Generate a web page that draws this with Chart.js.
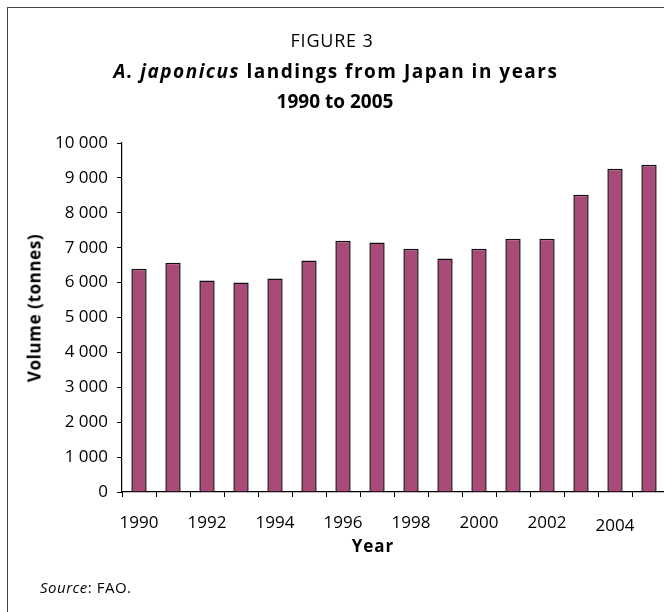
<!DOCTYPE html>
<html>
<head>
<meta charset="utf-8">
<script src="https://cdn.jsdelivr.net/npm/chart.js@4.4.1/dist/chart.umd.min.js"></script>
<style>
  html, body { margin: 0; padding: 0; background: #fff; overflow: hidden; }
  #wrap { position: relative; width: 664px; height: 612px; overflow: hidden; font-family: "Open Sans", sans-serif; color: #000; }
  #frame { position: absolute; left: 7px; top: 7px; width: 700px; height: 700px; border-left: 1.5px solid #444; border-top: 1.5px solid #444; }
  #chart { position: absolute; left: 0; top: 0; }
  .t { position: absolute; left: 0; width: 664px; text-align: center; white-space: nowrap; }
  #fig { top: 28px; font-size: 18px; letter-spacing: 0.8px; }
  #ttl1 { top: 58px; left: 4px; font-size: 19px; font-weight: bold; letter-spacing: 1.5px; }
  #ttl2 { top: 88px; left: 3px; font-size: 19px; font-weight: bold; }
  #xt { position: absolute; left: 373px; top: 534px; transform: translateX(-50%); font-size: 17px; font-weight: bold; letter-spacing: 1px; }
  #yt { position: absolute; left: 34px; top: 308px; transform: translate(-50%, -50%) rotate(-90deg); font-size: 17px; font-weight: bold; letter-spacing: 0.6px; white-space: nowrap; }
  #src { position: absolute; left: 40px; top: 577px; font-size: 15px; letter-spacing: 0.5px; }
</style>
</head>
<body>
<div id="wrap">
  <div id="frame"></div>
  <canvas id="chart" width="670" height="612"></canvas>
  <div class="t" id="fig">FIGURE 3</div>
  <div class="t" id="ttl1"><i>A. japonicus</i> landings from Japan in years</div>
  <div class="t" id="ttl2">1990 to 2005</div>
  <div id="yt">Volume (tonnes)</div>
  <div id="xt">Year</div>
  <div id="src"><i>Source</i>: FAO.</div>
</div>
<script>
// Dados
const anos = ["1990", "1991", "1992", "1993", "1994", "1995", "1996", "1997",
  "1998", "1999", "2000", "2001", "2002", "2003", "2004", "2005"];
const volume = [6400, 6570, 6060, 6000, 6120, 6630, 7200, 7150,
  6970, 6690, 6970, 7260, 7260, 8520, 9260, 9380];
const yTicks = [0, 1000, 2000, 3000, 4000, 5000, 6000, 7000, 8000, 9000, 10000];

const fonte = "'Open Sans', sans-serif";

const ctx = document.getElementById("chart");
const chart = new Chart(ctx, {
  type: "bar",
  data: {
    labels: anos,
    datasets: [{
      label: "Volume",
      data: volume,
      backgroundColor: "#AA4A78",
      borderColor: "#111",
      borderWidth: 1.5,
      categoryPercentage: 0.9,
      barPercentage: 0.5
    }]
  },
  options: {
    responsive: false,
    animation: false,
    layout: { padding: { top: 143, right: 4, left: 0, bottom: 0 } },
    plugins: { legend: { display: false }, tooltip: { enabled: false } },
    scales: {
      x: {
        offset: true,
        border: { display: true, color: "#000", width: 1.2 },
        grid: { drawOnChartArea: false, tickLength: 5, color: "#000", offset: true },
        ticks: {
          autoSkip: false,
          maxRotation: 0,
          padding: 16,
          color: "#000",
          // 2004 fica um pouco mais baixo no original
          font: function (c) {
            return anos[c.index] === "2004"
              ? { family: fonte, size: 17, lineHeight: "27px" }
              : { family: fonte, size: 17 };
          },
          callback: function (v, i) { return i % 2 === 0 ? anos[i] : ""; }
        },
        afterFit: function (s) { s.height = 120; s.paddingRight = 0; s.paddingLeft = 0; }
      },
      y: {
        min: 0,
        max: 10000,
        border: { display: true, color: "#000", width: 1.2 },
        grid: { drawOnChartArea: false, tickLength: 5, color: "#000" },
        afterBuildTicks: function (s) { s.ticks = yTicks.map(v => ({ value: v })); },
        ticks: {
          padding: 9,
          color: "#000",
          font: { family: fonte, size: 17 },
          callback: function (v) { return v.toLocaleString("en-US").replace(",", " "); }
        },
        afterFit: function (s) { s.width = 122; }
      }
    }
  }
});
</script>
</body>
</html>
